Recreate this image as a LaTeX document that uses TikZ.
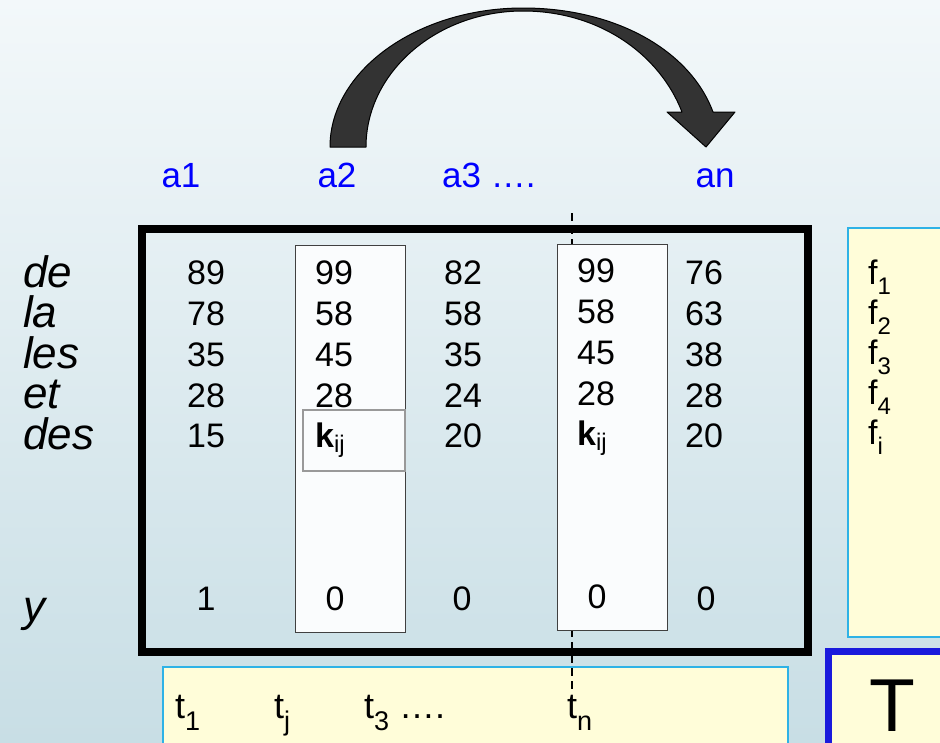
\documentclass[tikz,border=0pt]{standalone}
\usepackage{fontspec}
\setmainfont{Liberation Sans}
\usetikzlibrary{positioning}
\definecolor{bgtop}{HTML}{F3F8FA}
\definecolor{bgbot}{HTML}{C8DEE5}
\definecolor{notefill}{HTML}{FFFDD9}
\definecolor{noteline}{HTML}{2EB2E6}
\definecolor{tblue}{HTML}{1A1ADC}
\definecolor{attrblue}{HTML}{0000FF}
\definecolor{arrowfill}{HTML}{333333}
\definecolor{colfill}{HTML}{FAFCFD}
\newcommand\dropsub[3]{\raisebox{-#1}{\fontsize{#2}{#2}\selectfont #3}}
\tikzset{
  attr/.style={anchor=base, inner sep=0pt, text=attrblue, font=\fontsize{35}{35}\selectfont},
  cell/.style={anchor=north west, align=left, inner sep=0pt, font=\fontsize{34}{40.75}\selectfont},
  word/.style={anchor=north west, align=left, inner sep=0pt, font=\fontsize{44}{40.5}\selectfont\itshape},
  zero/.style={anchor=base, inner sep=0pt, font=\fontsize{34}{34}\selectfont},
  term/.style={anchor=base west, inner sep=0pt, font=\fontsize{36}{36}\selectfont},
  colbox/.style={draw=black!75, fill=colfill, line width=1pt},
  notebox/.style={draw=noteline, fill=notefill, line width=2pt}
}

\begin{document}
\begin{tikzpicture}[x=1pt, y=-1pt]
\path [use as bounding box, clip] (0,0) rectangle (940,742);
\shade [top color=bgtop, bottom color=bgbot] (0,0) rectangle (940,742);
\draw [notebox] (163,667) rectangle (788,760);
\draw [notebox] (848,228) rectangle (960,637);
\draw [line width=7pt, draw=tblue, fill=notefill] (828,651) rectangle (960,760);
\coordinate (d1) at (572,213);
\coordinate (d2) at (572,692);
\draw [dash pattern=on 8pt off 5pt, line width=1.3pt] (d1) -- (d2);
\draw [line width=8pt] (142,229) rectangle (808,652);
\draw [colbox] (295,245) rectangle (405,632);
\draw [colbox] (557,244) rectangle (667,630);
\draw [draw=black!40, fill=colfill, line width=1.5pt] (303,410) rectangle (405,471);

\draw [fill=arrowfill, line width=1pt, line join=round] (330,147) .. controls (330,71) and (417,8) .. (523,8) .. controls (615,8) and (690,50) .. (713,112) -- (735,112) -- (706,147) -- (667,112) -- (682,112) .. controls (660,55) and (600,11) .. (523,11) .. controls (437,11) and (366,72) .. (366,147) -- cycle;

\node (a1) [attr] at (181,187) {a1};
\node (a2) [attr] at (337,187) {a2};
\node (a3) [attr, anchor=base west] at (442,187) {a3 ….};
\node (an) [attr] at (715,187) {an};

\node (words) [word] at (23,255) {de\\la\\les\\et\\des};
\node (ylab) [anchor=base west, inner sep=0pt, font=\fontsize{44}{44}\selectfont\itshape] at (23,621) {y};

\node (c1) [cell] at (187,261) {89\\78\\35\\28\\15};
\node (c2) [cell] at (315,261) {99\\58\\45\\28\\{\bfseries k}\dropsub{5pt}{24}{ij}};
\node (c3) [cell] at (444,261) {82\\58\\35\\24\\20};
\node (c4) [cell] at (577,259) {99\\58\\45\\28\\{\bfseries k}\dropsub{5pt}{24}{ij}};
\node (c5) [cell] at (685,261) {76\\63\\38\\28\\20};

\node (y1) [zero] at (206,610) {1};
\node (y2) [zero] at (335,610) {0};
\node (y3) [zero] at (462,610) {0};
\node (y4) [zero] at (597,608) {0};
\node (y5) [zero] at (706,610) {0};

\node (f) [cell, font=\fontsize{34}{40}\selectfont] at (868,260) {f\dropsub{10pt}{24}{1}\\f\dropsub{10pt}{24}{2}\\f\dropsub{10pt}{24}{3}\\f\dropsub{10pt}{24}{4}\\f\dropsub{10pt}{24}{i}};

\node (t1) [term] at (175,718) {t\dropsub{12pt}{27}{1}};
\node (tj) [term] at (274,718) {t\dropsub{12pt}{27}{j}};
\node (t3) [term] at (364,718) {t\dropsub{12pt}{27}{3} ….};
\node (tn) [term] at (567,718) {t\dropsub{12pt}{27}{n}};

\node (T) [anchor=base, inner sep=0pt, font=\fontsize{75}{75}\selectfont] at (892,731) {T};
\end{tikzpicture}
\end{document}
